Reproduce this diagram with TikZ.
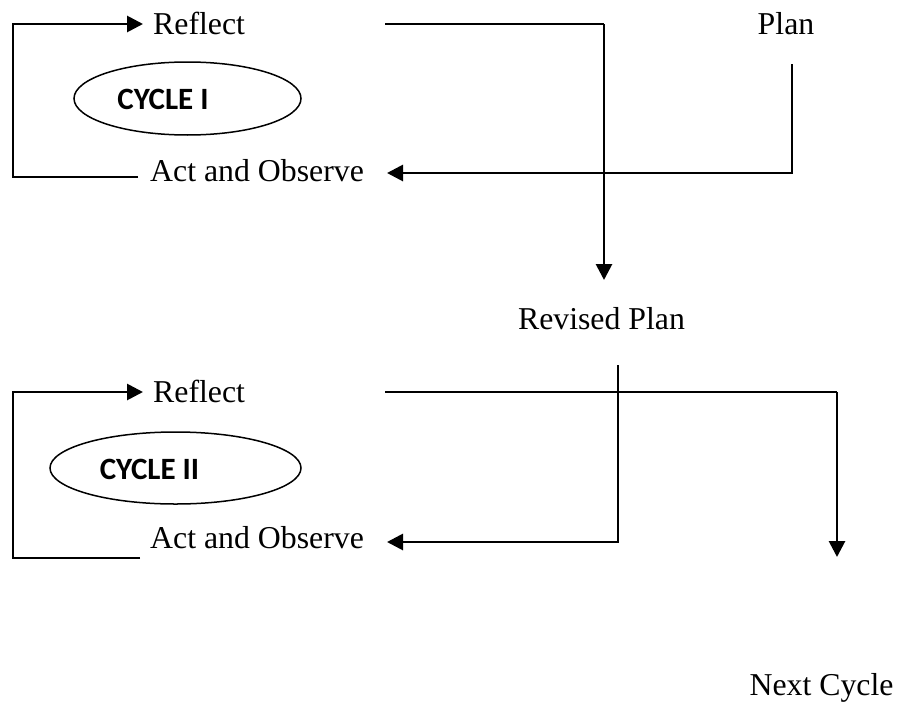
\documentclass[tikz,border=0pt]{standalone}
\usepackage{fontspec}
\setmainfont{Liberation Serif}
\newfontfamily\cycfont{Carlito}
\usetikzlibrary{shapes.geometric,arrows.meta}
\begin{document}
\begin{tikzpicture}[x=1pt,y=-1pt,
  lbl/.style={font=\fontsize{31.8}{38}\selectfont, inner sep=0pt},
  ell/.style={draw, ellipse, line width=1.5pt, inner sep=0pt},
  cyctext/.style={font=\cycfont\bfseries\fontsize{31}{36}\selectfont, inner sep=0pt},
  thin/.style={line width=2pt},
  conn/.style={line width=2.8pt, -{Triangle[length=16pt,width=16pt]}},
]
\useasboundingbox (0,0) rectangle (899,704);
% text nodes
\node[lbl, anchor=base west] (rf1) at (153,34) {Reflect};
\node[lbl, anchor=base west] (ao1) at (150,181) {Act and Observe};
\node[lbl, anchor=base] (plan) at (786,34) {Plan};
\node[lbl, anchor=base] (rp) at (601.5,329) {Revised Plan};
\node[lbl, anchor=base west] (rf2) at (153,402) {Reflect};
\node[lbl, anchor=base west] (ao2) at (150,548) {Act and Observe};
\node[lbl, anchor=base] (nc) at (821.5,695) {Next Cycle};
% ellipses
\node[ell, minimum width=227pt, minimum height=73pt] (e1) at (187.5,98.5) {};
\node[cyctext] (c1) at (163,99) {CYCLE I};
\node[ell, minimum width=251pt, minimum height=72pt] (e2) at (175.5,468) {};
\node[cyctext] (c2) at (149.5,469) {CYCLE II};
% free ends
\coordinate (l1s) at (138,177);
\coordinate (l1e) at (143,24);
\coordinate (r1s) at (385,24);
\coordinate (r1e) at (604,280);
\coordinate (p1s) at (792,64);
\coordinate (p1e) at (387,173);
\coordinate (l2s) at (140,558);
\coordinate (l2e) at (143,392);
\coordinate (r2s) at (385,392);
\coordinate (r2e) at (837,557);
\coordinate (p2s) at (618,365);
\coordinate (p2e) at (387,542);
% connectors
\draw[conn] (l1s) -- (13,177) -- (13,24) -- (l1e);
\draw[thin] (r1s) -- (604,24);
\draw[conn] (604,24) -- (r1e);
\draw[conn] (p1s) |- (p1e);
\draw[conn] (l2s) -- (13,558) -- (13,392) -- (l2e);
\draw[thin] (r2s) -- (837,392);
\draw[conn] (837,392) -- (r2e);
\draw[conn] (p2s) |- (p2e);
\end{tikzpicture}
\end{document}
